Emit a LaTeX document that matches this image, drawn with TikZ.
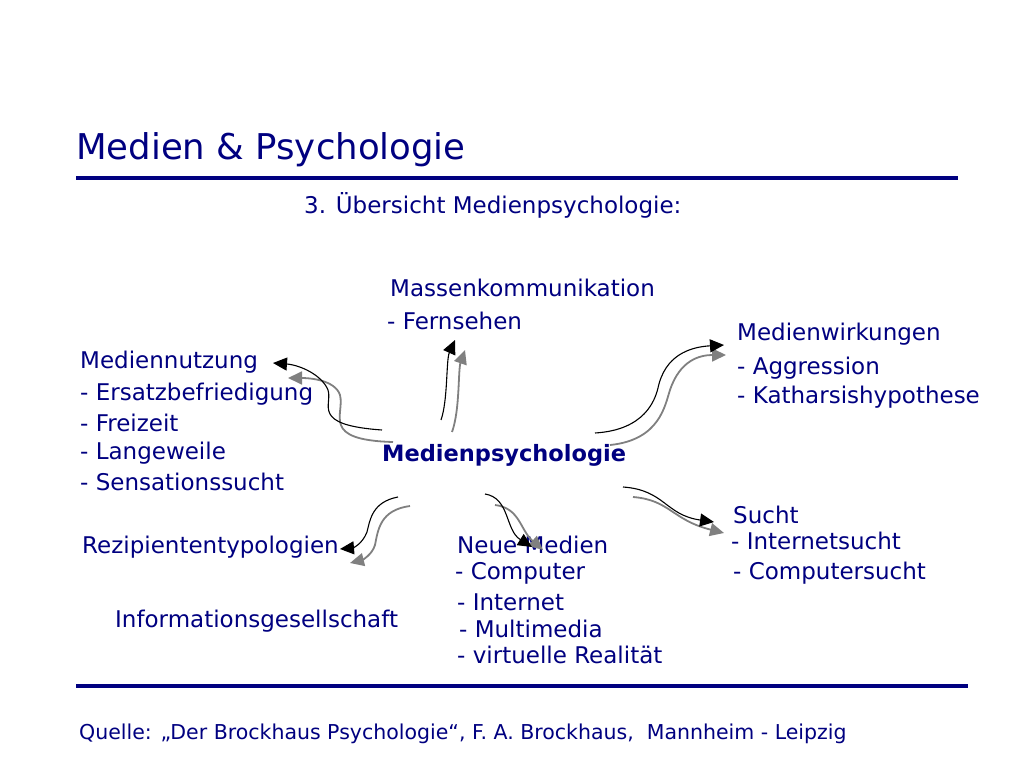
\documentclass[tikz,border=0pt]{standalone}
\usepackage{fontspec}
\setmainfont{DejaVu Sans}
\usetikzlibrary{arrows.meta}
\definecolor{navy}{RGB}{0,0,128}
\definecolor{gr}{RGB}{128,128,128}
\begin{document}
\begin{tikzpicture}[x=1pt,y=-1pt,
  t/.style={anchor=west,inner sep=0pt,text=navy,font=\fontsize{23}{26}\selectfont},
  ba/.style={draw=black,line width=1.1pt,-{Triangle[length=14pt,width=13pt]}},
  ga/.style={draw=gr,line width=1.8pt,-{Triangle[length=14pt,width=13pt]}}]
\useasboundingbox (0,0) rectangle (1023,767);
\node[t,font=\fontsize{35.5}{40}\selectfont] (title) at (76,150) {Medien \& Psychologie};
\draw[navy,line width=3.5pt] (76,178) -- (958,178);
\node[t] (sub) at (304,205) {3. Übersicht Medienpsychologie:};
\node[t,font=\bfseries\fontsize{22.5}{26}\selectfont] (mp) at (382,455) {Medienpsychologie};
\node[t] (mk) at (390,288) {Massenkommunikation};
\node[t] (fs) at (387,321) {- Fernsehen};
\node[t] (mn) at (80,362) {Mediennutzung};
\node[t] (mn1) at (80,394) {- Ersatzbefriedigung};
\node[t] (mn2) at (80,423) {- Freizeit};
\node[t] (mn3) at (80,453) {- Langeweile};
\node[t] (mn4) at (80,482) {- Sensationssucht};
\node[t] (mw) at (737,334) {Medienwirkungen};
\node[t] (mw1) at (737,368) {- Aggression};
\node[t] (mw2) at (737,397) {- Katharsishypothese};
\node[t] (rz) at (82,547) {Rezipiententypologien};
\node[t] (ig) at (115,621) {Informationsgesellschaft};
\node[t] (nm) at (457,545) {Neue Medien};
\node[t] (nm1) at (455,573) {- Computer};
\node[t] (nm2) at (457,602) {- Internet};
\node[t] (nm3) at (459,629) {- Multimedia};
\node[t] (nm4) at (457,655) {- virtuelle Realität};
\node[t] (su) at (733,515) {Sucht};
\node[t] (su1) at (731,541) {- Internetsucht};
\node[t] (su2) at (733,573) {- Computersucht};
\draw[navy,line width=3.5pt] (76,686) -- (968,686);
\node[t,font=\fontsize{20.5}{24}\selectfont] (q) at (79,734) {Quelle: „Der Brockhaus Psychologie“, F. A. Brockhaus,\ \ Mannheim - Leipzig};
% arrows
\coordinate (a1) at (382,430); \coordinate (a2) at (273,363);
\coordinate (b1) at (393,442); \coordinate (b2) at (288,378);
\draw[ga] (b1) .. controls (320,440) and (345,415) .. (340,395) .. controls (335,380) and (310,378) .. (b2);
\draw[ba] (a1) .. controls (310,425) and (333,405) .. (328,390) .. controls (322,375) and (300,365) .. (a2);
\coordinate (c1) at (441,420); \coordinate (c2) at (455,340);
\coordinate (d1) at (452,432); \coordinate (d2) at (465,350);
\draw[ga] (d1) .. controls (460,410) and (458,370) .. (d2);
\draw[ba] (c1) .. controls (448,400) and (446,360) .. (c2);
\coordinate (e1) at (595,433); \coordinate (e2) at (724,345);
\coordinate (f1) at (610,445); \coordinate (f2) at (726,355);
\draw[ga] (f1) .. controls (660,440) and (665,405) .. (670,390) .. controls (680,360) and (700,355) .. (f2);
\draw[ba] (e1) .. controls (645,430) and (655,400) .. (658,388) .. controls (665,355) and (690,347) .. (e2);
\coordinate (g1) at (398,497); \coordinate (g2) at (340,549);
\coordinate (h1) at (410,506); \coordinate (h2) at (350,563);
\draw[ga] (h1) .. controls (380,510) and (378,530) .. (375,545) .. controls (372,555) and (362,560) .. (h2);
\draw[ba] (g1) .. controls (372,502) and (370,520) .. (367,532) .. controls (362,545) and (352,548) .. (g2);
\coordinate (i1) at (485,494); \coordinate (i2) at (532,547);
\coordinate (j1) at (495,505); \coordinate (j2) at (543,550);
\draw[ga] (j1) .. controls (520,508) and (520,530) .. (j2);
\draw[ba] (i1) .. controls (510,498) and (505,530) .. (i2);
\coordinate (k1) at (623,487); \coordinate (k2) at (714,522);
\coordinate (l1) at (633,497); \coordinate (l2) at (724,533);
\draw[ga] (l1) .. controls (670,500) and (672,520) .. (l2);
\draw[ba] (k1) .. controls (665,490) and (665,515) .. (k2);
\end{tikzpicture}
\end{document}
